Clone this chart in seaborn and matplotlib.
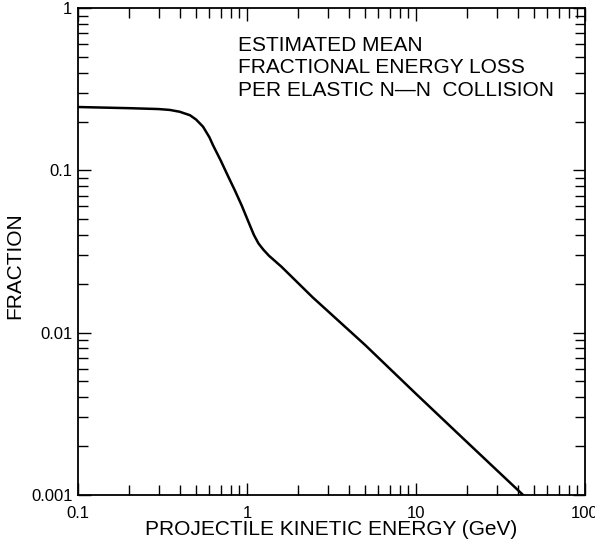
import matplotlib
matplotlib.use("Agg")
import matplotlib.pyplot as plt
import seaborn as sns
import pandas as pd
from matplotlib.ticker import LogLocator, FixedLocator, FixedFormatter, NullFormatter

# values (GeV, fraction)
energy_gev = [0.1, 0.2, 0.3, 0.35, 0.4, 0.46, 0.5, 0.55, 0.6, 0.63, 0.7, 0.77,
              0.85, 0.93, 1.04, 1.1, 1.17, 1.25, 1.35, 1.6, 2.45, 5.0, 10.0, 20.0, 43.0]
fraction = [0.246, 0.242, 0.239, 0.236, 0.230, 0.219, 0.206, 0.186, 0.160, 0.143,
            0.115, 0.093, 0.075, 0.061, 0.046, 0.040, 0.0355, 0.0325, 0.0298, 0.0255,
            0.0165, 0.0084, 0.0042, 0.00212, 0.001]

x_ticks = [0.1, 1, 10, 100]
x_tick_labels = ["0.1", "1", "10", "100"]
y_ticks = [0.001, 0.01, 0.1, 1]
y_tick_labels = ["0.001", "0.01", "0.1", "1"]

annotation = "ESTIMATED MEAN\nFRACTIONAL ENERGY LOSS\nPER ELASTIC N\u2014N  COLLISION"

df = pd.DataFrame({"energy": energy_gev, "fraction": fraction})

sns.set_theme(style="ticks")
plt.rcParams["font.family"] = ["Liberation Sans", "DejaVu Sans"]

fig = plt.figure(figsize=(5.95, 5.48), dpi=100)
ax = fig.add_axes([0.131, 0.097, 0.852, 0.888])

sns.lineplot(data=df, x="energy", y="fraction", color="black", linewidth=1.8, ax=ax)

ax.set_xscale("log")
ax.set_yscale("log")
ax.set_xlim(0.1, 100)
ax.set_ylim(0.001, 1)

ax.xaxis.set_major_locator(FixedLocator(x_ticks))
ax.xaxis.set_major_formatter(FixedFormatter(x_tick_labels))
ax.yaxis.set_major_locator(FixedLocator(y_ticks))
ax.yaxis.set_major_formatter(FixedFormatter(y_tick_labels))
ax.xaxis.set_minor_locator(LogLocator(base=10, subs=range(2, 10)))
ax.yaxis.set_minor_locator(LogLocator(base=10, subs=range(2, 10)))
ax.xaxis.set_minor_formatter(NullFormatter())
ax.yaxis.set_minor_formatter(NullFormatter())

ax.tick_params(which="both", direction="in", top=True, right=True,
               color="black", width=1.0, labelsize=12, labelcolor="black")
ax.tick_params(which="major", length=9)
ax.tick_params(which="minor", length=7)
ax.tick_params(axis="x", which="major", pad=8)
ax.tick_params(axis="y", which="major", pad=4)
for s in ax.spines.values():
    s.set_linewidth(1.3)
    s.set_color("black")

ax.set_xlabel("PROJECTILE KINETIC ENERGY (GeV)", fontsize=15, labelpad=-1, color="black")
ax.set_ylabel("FRACTION", fontsize=15, color="black")
ax.yaxis.set_label_coords(-0.105, 0.472)

ax.text(0.315, 0.943, annotation, transform=ax.transAxes, fontsize=15,
        ha="left", va="top", linespacing=1.23, color="black")

fig.savefig("out.png", dpi=100)
